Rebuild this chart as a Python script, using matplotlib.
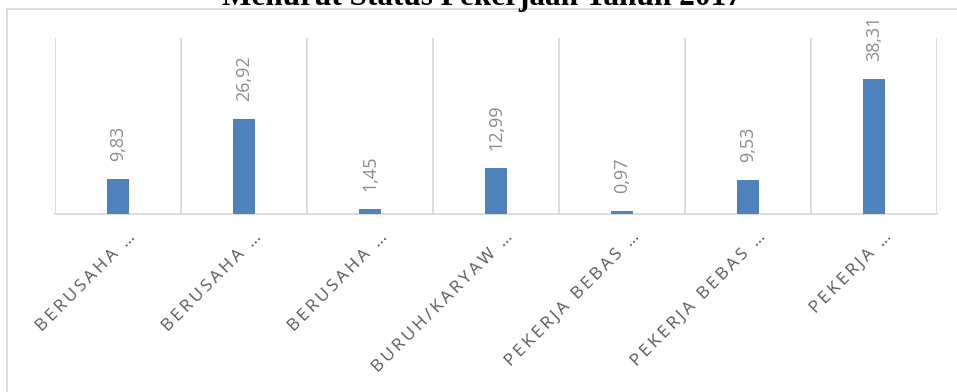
import matplotlib.pyplot as plt
import matplotlib.transforms as mtransforms
import numpy as np

# data
categories = ['BERUSAHA ...', 'BERUSAHA ...', 'BERUSAHA ...', 'BURUH/KARYAW ...',
              'PEKERJA BEBAS ...', 'PEKERJA BEBAS ...', 'PEKERJA ...']
values = [9.83, 26.92, 1.45, 12.99, 0.97, 9.53, 38.31]
title = 'Menurut Status Pekerjaan Tahun 2017'

bar_color = '#4F81BD'
grid_color = '#D9D9D9'
font = ['Open Sans', 'DejaVu Sans']


def spaced(s):
    # letter spacing like the office chart style
    s = s.replace('...', '\u2026')
    return '\u2009'.join(s)


fig = plt.figure(figsize=(9.57, 3.92), dpi=100)
W, H = 957, 392
ax = fig.add_axes([55 / W, 1 - 214 / H, (937 - 55) / W, (214 - 38) / H])

x = np.arange(len(values))
ax.bar(x, values, width=0.18, color=bar_color, zorder=3)

for xi, v in zip(x, values):
    ax.annotate(f'{v:.2f}'.replace('.', ','), (xi, v), xytext=(0, 13),
                textcoords='offset points', rotation=90, ha='center', va='bottom',
                fontsize=13, color='#8C8C8C', family=font)

ax.set_xlim(-0.5, len(values) - 0.5)
ax.set_ylim(0, 50)
ax.set_yticks([])
ax.set_xticks(x)
ax.set_xticklabels([spaced(c) for c in categories], rotation=45, ha='right',
                   va='center', rotation_mode='anchor', fontsize=12.5,
                   color='#595959', family=font)
ax.tick_params(axis='x', length=0, pad=15)
shift = mtransforms.ScaledTranslation(15 / 100, 0, fig.dpi_scale_trans)
for lbl in ax.get_xticklabels():
    lbl.set_transform(lbl.get_transform() + shift)
for xb in np.arange(-0.5, len(values), 1.0):
    ax.axvline(xb, color=grid_color, lw=1.3, zorder=1)
for side in ['top', 'left', 'right']:
    ax.spines[side].set_visible(False)
ax.spines['bottom'].set_color(grid_color)
ax.spines['bottom'].set_linewidth(1.3)

# outer chart frame
fig.add_artist(plt.Line2D([7 / W, 1], [1 - 9 / H, 1 - 9 / H], color=grid_color, lw=1.3))
fig.add_artist(plt.Line2D([7 / W, 7 / W], [0, 1 - 9 / H], color=grid_color, lw=1.3))

fig.text(482 / W, 1 - 5 / H, title, ha='center', va='baseline', fontsize=22.5,
         fontweight='bold', family='Liberation Serif')

fig.savefig('out.png', dpi=100)
